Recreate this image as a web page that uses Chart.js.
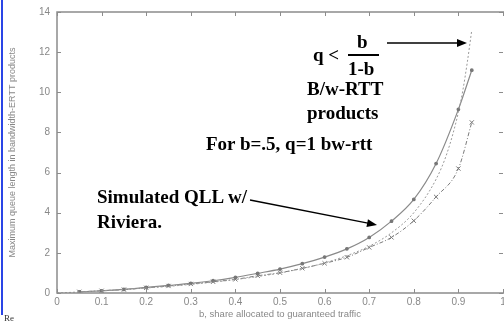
<!DOCTYPE html>
<html>
<head>
<meta charset="utf-8">
<script src="https://cdn.jsdelivr.net/npm/chart.js@4"></script>
<style>
body { margin: 0; background: #fff; }
#wrap { position: relative; width: 504px; height: 323px; overflow: hidden; }
.note { position: absolute; font-family: "Liberation Serif", "Times New Roman", serif; font-weight: bold; font-size: 19px; line-height: 19px; color: #000; white-space: nowrap; }
#re { position: absolute; left: 4px; top: 313px; font-family: "Liberation Serif", serif; font-size: 9px; color: #333; }
#blue { position: absolute; left: 1px; top: 0; width: 2px; height: 315px; background: #2a45e6; }
</style>
</head>
<body>
<div id="wrap">
  <canvas id="myChart" width="504" height="323"></canvas>
  <div id="blue"></div>
  <div id="re">Re</div>
  <div class="note" style="left:313px; top:45px;">q &lt;</div>
  <div class="note" style="left:357px; top:32px;">b</div>
  <div class="note" style="left:348px; top:59px;">1-b</div>
  <div class="note" style="left:307px; top:79px;">B/w-RTT</div>
  <div class="note" style="left:307px; top:103px;">products</div>
  <div class="note" style="left:206px; top:134px;">For b=.5, q=1 bw-rtt</div>
  <div class="note" style="left:97px; top:187px;">Simulated QLL w/</div>
  <div class="note" style="left:97px; top:212px;">Riviera.</div>
</div>
<script>
// b values where the simulation was sampled
const simB = [0.05, 0.1, 0.15, 0.2, 0.25, 0.3, 0.35, 0.4, 0.45, 0.5, 0.55, 0.6, 0.65, 0.7, 0.75, 0.8, 0.85, 0.9, 0.93]
const upperQ = [0.06, 0.11, 0.18, 0.28, 0.38, 0.48, 0.61, 0.78, 0.98, 1.19, 1.46, 1.79, 2.2, 2.77, 3.58, 4.66, 6.45, 9.15, 11.1]
const lowerQ = [0.06, 0.11, 0.17, 0.26, 0.35, 0.45, 0.56, 0.68, 0.86, 1.01, 1.23, 1.48, 1.78, 2.27, 2.77, 3.6, 4.79, 6.2, 8.5]
// bound q < b/(1-b)
const boundB = [0, 0.05, 0.1, 0.15, 0.2, 0.25, 0.3, 0.35, 0.4, 0.45, 0.5, 0.55, 0.6, 0.65, 0.7, 0.75, 0.8, 0.85, 0.875, 0.9, 0.91, 0.92, 0.93]
const boundQ = [0, 0.05, 0.11, 0.18, 0.25, 0.33, 0.43, 0.54, 0.67, 0.82, 1.0, 1.22, 1.5, 1.86, 2.33, 3.0, 4.0, 5.67, 7.0, 9.0, 10.1, 11.5, 13.1]
const xTicks = [0, 0.1, 0.2, 0.3, 0.4, 0.5, 0.6, 0.7, 0.8, 0.9, 1]
const yTicks = [0, 2, 4, 6, 8, 10, 12, 14]

const toPts = (xs, ys) => xs.map((x, i) => ({ x, y: ys[i] }))

// frame with inward ticks + the two arrows
const framePlugin = {
    id: 'frame',
    afterDraw(chart) {
        const { ctx, chartArea: a, scales } = chart
        ctx.save()
        ctx.strokeStyle = '#8c8c8c'
        ctx.lineWidth = 1.5
        ctx.beginPath()
        ctx.moveTo(a.right + 2, a.top); ctx.lineTo(a.left, a.top)
        ctx.lineTo(a.left, a.bottom); ctx.lineTo(a.right + 2, a.bottom)
        ctx.stroke()
        ctx.lineWidth = 1
        ctx.beginPath()
        xTicks.forEach(v => {
            const px = Math.round(scales.x.getPixelForValue(v)) + 0.5
            ctx.moveTo(px, a.bottom); ctx.lineTo(px, a.bottom - 4)
            ctx.moveTo(px, a.top); ctx.lineTo(px, a.top + 4)
        })
        yTicks.forEach(v => {
            const py = Math.round(scales.y.getPixelForValue(v)) + 0.5
            ctx.moveTo(a.left, py); ctx.lineTo(a.left + 4, py)
            ctx.moveTo(a.right, py); ctx.lineTo(a.right - 4, py)
        })
        ctx.stroke()

        // fraction bar
        ctx.fillStyle = '#000'
        ctx.fillRect(348, 54, 31, 2)
        arrow(ctx, 387, 43, 467, 43)
        arrow(ctx, 250, 200, 377, 225)
        ctx.restore()
    }
}

function arrow(ctx, x1, y1, x2, y2){
    const ang = Math.atan2(y2 - y1, x2 - x1)
    ctx.strokeStyle = '#000'
    ctx.lineWidth = 1.3
    ctx.beginPath()
    ctx.moveTo(x1, y1)
    ctx.lineTo(x2 - 8 * Math.cos(ang), y2 - 8 * Math.sin(ang))
    ctx.stroke()
    ctx.beginPath()
    ctx.moveTo(x2, y2)
    ctx.lineTo(x2 - 10 * Math.cos(ang) + 4 * Math.sin(ang), y2 - 10 * Math.sin(ang) - 4 * Math.cos(ang))
    ctx.lineTo(x2 - 10 * Math.cos(ang) - 4 * Math.sin(ang), y2 - 10 * Math.sin(ang) + 4 * Math.cos(ang))
    ctx.closePath()
    ctx.fill()
}

const axisFont = { family: 'Liberation Sans', size: 10 }

new Chart(document.getElementById('myChart'), {
    type: 'line',
    data: {
        datasets: [{
            label: 'b/(1-b)',
            data: toPts(boundB, boundQ),
            borderColor: '#999',
            borderWidth: 1,
            borderDash: [2, 2],
            pointRadius: 0,
            cubicInterpolationMode: 'monotone'
        }, {
            label: 'Simulated QLL',
            data: toPts(simB, upperQ),
            borderColor: '#8a8a8a',
            borderWidth: 1.2,
            pointStyle: 'circle',
            pointRadius: 1.3,
            pointBackgroundColor: '#777',
            pointBorderColor: '#777',
            cubicInterpolationMode: 'monotone'
        }, {
            label: 'Riviera',
            data: toPts(simB, lowerQ),
            borderColor: '#7a7a7a',
            borderWidth: 1,
            borderDash: [4, 2, 1, 2],
            pointStyle: 'crossRot',
            pointRadius: 3,
            pointBorderWidth: 1,
            pointBorderColor: '#777',
            cubicInterpolationMode: 'monotone'
        }]
    },
    options: {
        responsive: false,
        animation: false,
        layout: { autoPadding: false, padding: { top: 12, right: 1, left: 0, bottom: 0 } },
        plugins: { legend: { display: false }, tooltip: { enabled: false } },
        scales: {
            x: {
                type: 'linear',
                min: 0, max: 1,
                afterFit: s => { s.height = 30; s.paddingLeft = 0; s.paddingRight = 0 },
                afterBuildTicks: s => { s.ticks = xTicks.map(v => ({ value: v })) },
                grid: { display: false, drawTicks: false },
                border: { display: false },
                ticks: { font: axisFont, color: '#888', padding: 3, maxRotation: 0, autoSkip: false, callback: v => String(v) },
                title: { display: true, text: 'b, share allocated to guaranteed traffic', font: { family: 'Liberation Sans', size: 9.5 }, color: '#888', padding: { top: 0, bottom: 3 } }
            },
            y: {
                min: 0, max: 14,
                afterFit: s => { s.width = 57; s.paddingTop = 0; s.paddingBottom = 0 },
                afterBuildTicks: s => { s.ticks = yTicks.map(v => ({ value: v })) },
                grid: { display: false, drawTicks: false },
                border: { display: false },
                ticks: { font: axisFont, color: '#888', padding: 7 },
                title: { display: true, text: 'Maximum queue length in bandwidth-ERTT products', font: { family: 'Liberation Sans', size: 9 }, color: '#888', padding: { top: 7, bottom: 0 } }
            }
        }
    },
    plugins: [framePlugin]
})
</script>
</body>
</html>
